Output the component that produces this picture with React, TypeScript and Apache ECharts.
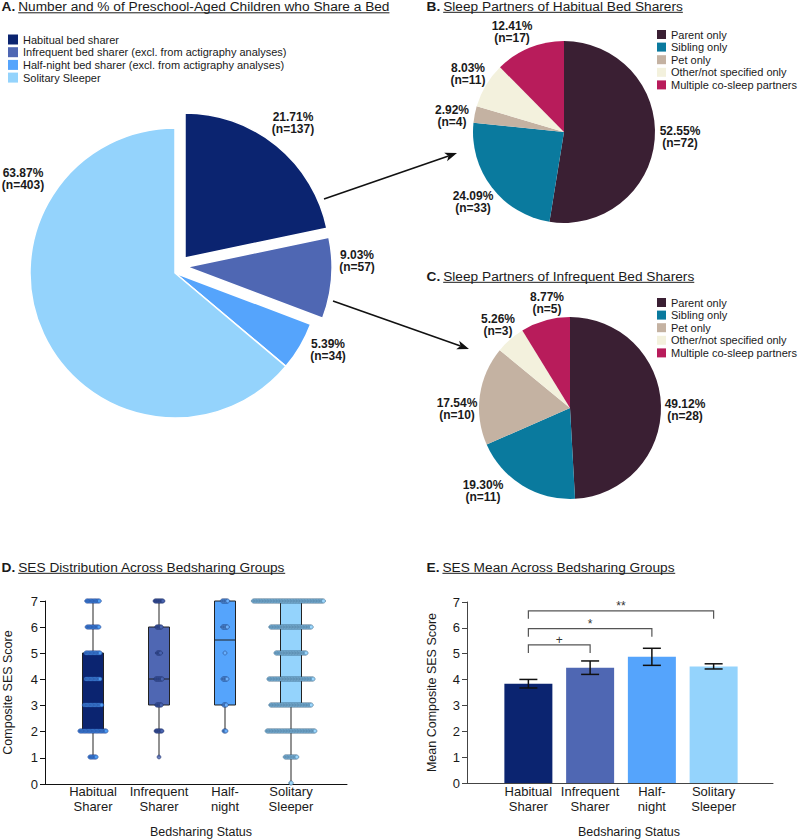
import React, { useEffect, useRef } from "react";
import * as echarts from "echarts";

const FONT = '"Liberation Sans", Arial, Helvetica, sans-serif';
const INK = "#1a1a1a";

// ---------- Panel A data ----------
const groupNames = [
  "Habitual bed sharer",
  "Infrequent bed sharer (excl. from actigraphy analyses)",
  "Half-night bed sharer (excl. from actigraphy analyses)",
  "Solitary Sleeper",
];
const groupCounts = [137, 57, 34, 403];

// ---------- Panels B & C data ----------
const partnerNames = [
  "Parent only",
  "Sibling only",
  "Pet only",
  "Other/not specified only",
  "Multiple co-sleep partners",
];
const habitualPartnerCounts = [72, 33, 4, 11, 17];
const infrequentPartnerCounts = [28, 11, 10, 3, 5];

// ---------- Panel D data ----------
const statusCategories = ["Habitual\nSharer", "Infrequent\nSharer", "Half-\nnight", "Solitary\nSleeper"];
const sesScores = [0, 1, 2, 3, 4, 5, 6, 7];
const habitualScoreCounts = [0, 9, 34, 23, 19, 19, 16, 17];
const infrequentScoreCounts = [0, 1, 10, 8, 11, 6, 8, 13];
const halfNightScoreCounts = [0, 0, 4, 5, 7, 1, 8, 9];
const solitaryScoreCounts = [2, 17, 66, 56, 61, 42, 56, 103];
const boxMin = [1, 1, 2, 0];
const boxQ1 = [2, 3, 3, 3];
const boxMedian = [4, 4, 5.5, 5];
const boxQ3 = [5, 6, 7, 7];
const boxMax = [7, 7, 7, 7];

// ---------- Panel E data ----------
const sesMeans = [3.84, 4.46, 4.88, 4.51];
const sesSE = [0.165, 0.26, 0.33, 0.1];
const sigFrom = [0, 0, 0];
const sigTo = [1, 2, 3];
const sigLevel = [5.34, 5.97, 6.66];
const sigLabels = ["+", "*", "**"];

// ---------- styles / layout ----------
const groupColors = ["#0b2470", "#4f67b3", "#55a4fc", "#94d3fc"];
const partnerColors = ["#3a1f33", "#0a7a9e", "#c4b2a2", "#f3f1dd", "#b81c5b"];
const dotFill = ["#4f9ff5", "#4a64b0", "#6db3ff", "#9cd8ff"];
const dotStroke = ["#1b3c8c", "#1c2c66", "#1c3a78", "#3b6585"];
const dotStepPx = [0.8, 0.67, 0.7, 0.74];
const bandPx = 66;

const pieACenter = [175, 273];
// pixel offsets of the pulled-out slices (habitual, infrequent)
const explodeOffsets: Record<number, number[]> = { 0: [10, -15], 1: [12, -6] };

const aLabelPos = [[293, 123], [357, 261], [328, 350], [23, 179]];
const bLabelPos = [[680, 137], [473, 202], [452, 116], [468, 74], [512, 32]];
const cLabelPos = [[685, 410], [483, 491], [457, 409], [498, 325], [547, 303]];

function measure(text: string, font: string) {
  const c = document.createElement("canvas").getContext("2d")!;
  c.font = font;
  return c.measureText(text).width;
}

const TITLE_SIZE = 13.7;
function titleGraphic(x: number, y: number, letter: string, text: string) {
  const lw = measure(letter, `bold ${TITLE_SIZE}px "Liberation Sans"`) + 3;
  const tw = measure(text, `${TITLE_SIZE}px "Liberation Sans"`);
  return [
    {
      type: "text", x, y,
      style: { text: letter, fontSize: TITLE_SIZE, fontWeight: "bold", fontFamily: FONT, fill: INK, verticalAlign: "middle" },
    },
    {
      type: "text", x: x + lw, y,
      style: { text, fontSize: TITLE_SIZE, fontFamily: FONT, fill: INK, verticalAlign: "middle" },
    },
    {
      type: "line",
      shape: { x1: x + lw, y1: y + 6.3, x2: x + lw + tw, y2: y + 6.3 },
      style: { stroke: INK, lineWidth: 1 },
    },
  ];
}

function arrow(x1: number, y1: number, x2: number, y2: number) {
  const dx = x2 - x1, dy = y2 - y1;
  const L = Math.hypot(dx, dy);
  const ux = dx / L, uy = dy / L;
  const hl = 12, hw = 4.5;
  const bx = x2 - ux * hl, by = y2 - uy * hl;
  return [
    { type: "line", shape: { x1, y1, x2: bx + ux * 3, y2: by + uy * 3 }, style: { stroke: "#111", lineWidth: 1.6 } },
    {
      type: "polygon",
      shape: { points: [[x2, y2], [bx - uy * hw, by + ux * hw], [bx + ux * 3, by + uy * 3], [bx + uy * hw, by - ux * hw]] },
      style: { fill: "#111" },
    },
  ];
}

function pieSeries(
  names: string[], counts: number[], colors: string[], center: number[], radius: number,
  labelPos: number[][], visible: (i: number) => boolean = () => true, extra: any = {}
) {
  const total = counts.reduce((a, b) => a + b, 0);
  return {
    type: "pie",
    center,
    radius,
    startAngle: 90,
    clockwise: true,
    avoidLabelOverlap: false,
    silent: true,
    emphasis: { disabled: true },
    data: names.map((n, i) => ({
      name: n,
      value: counts[i],
      itemStyle: visible(i)
        ? { color: colors[i] }
        : { color: "rgba(0,0,0,0)", borderWidth: 0, borderColor: "rgba(0,0,0,0)" },
      label: { show: visible(i) },
    })),
    label: {
      show: true,
      position: "outside",
      formatter: (p: any) => `${((p.value / total) * 100).toFixed(2)}%\n(n=${p.value})`,
      fontSize: 12,
      fontWeight: "bold",
      color: INK,
      lineHeight: 12.5,
      fontFamily: FONT,
    },
    labelLine: { show: false },
    labelLayout: (p: any) => ({
      x: labelPos[p.dataIndex][0],
      y: labelPos[p.dataIndex][1],
      align: "center",
      verticalAlign: "middle",
    }),
    ...extra,
  };
}

function dotSeries(g: number, counts: number[]) {
  const data: number[][] = [];
  sesScores.forEach((s, k) => {
    const n = counts[k];
    for (let i = 0; i < n; i++) {
      data.push([g + ((i - (n - 1) / 2) * dotStepPx[g]) / bandPx, s]);
    }
  });
  return {
    type: "scatter",
    xAxisIndex: 2,
    yAxisIndex: 1,
    z: 4,
    silent: true,
    symbol: "circle",
    symbolSize: 4,
    itemStyle: { color: dotFill[g], borderColor: dotStroke[g], borderWidth: 0.6 },
    data,
  };
}

function buildOption() {
  const legendText = { fontSize: 11, color: INK, fontFamily: FONT, lineHeight: 11 };
  const catLabel = { fontSize: 13, lineHeight: 15, color: INK, margin: 1, interval: 0, fontFamily: FONT };
  const axisName = { fontSize: 12.5, color: INK, fontFamily: FONT };
  const aBorder = { borderColor: "#ffffff", borderWidth: 1.5 };

  const exploded = Object.keys(explodeOffsets).map(Number);
  const pieA = [
    pieSeries(groupNames, groupCounts, groupColors, pieACenter, 145, aLabelPos,
      (i) => !exploded.includes(i), { itemStyle: aBorder }),
    ...exploded.map((k) =>
      pieSeries(groupNames, groupCounts, groupColors,
        [pieACenter[0] + explodeOffsets[k][0], pieACenter[1] + explodeOffsets[k][1]], 145, aLabelPos,
        (i) => i === k, { itemStyle: aBorder })
    ),
  ];

  return {
    animation: false,
    backgroundColor: "#ffffff",
    textStyle: { fontFamily: FONT },
    legend: [
      {
        data: groupNames.map((n, i) => ({ name: n, itemStyle: { color: groupColors[i], borderWidth: 0 } })),
        left: 8, top: 34, padding: 0, orient: "vertical", icon: "rect",
        itemWidth: 10, itemHeight: 10, itemGap: 1.7, selectedMode: false, textStyle: legendText,
      },
      {
        data: partnerNames, left: 657, top: 29, padding: 0, orient: "vertical", icon: "rect",
        itemWidth: 9, itemHeight: 9, itemGap: 1.6, selectedMode: false, textStyle: legendText,
      },
      {
        data: partnerNames, left: 657, top: 297, padding: 0, orient: "vertical", icon: "rect",
        itemWidth: 9, itemHeight: 9, itemGap: 1.6, selectedMode: false, textStyle: legendText,
      },
    ],
    grid: [
      { left: 43, top: 601, width: 304, height: 183 },
      { left: 60, top: 601, width: 264, height: 183 },
      { left: 467, top: 602, width: 306, height: 181 },
      { left: 497.5, top: 602, width: 247, height: 181 },
    ],
    xAxis: [
      {
        gridIndex: 0, type: "value", min: 0, max: 1,
        axisLine: { show: true, lineStyle: { color: "#111", width: 1 } },
        axisTick: { show: false }, axisLabel: { show: false }, splitLine: { show: false },
      },
      {
        gridIndex: 1, type: "category", data: statusCategories, boundaryGap: true,
        axisLine: { show: false }, axisTick: { show: false }, axisLabel: catLabel,
        name: "Bedsharing Status", nameLocation: "middle", nameGap: 42,
        nameTextStyle: { ...axisName, padding: [0, 0, 0, 18] },
      },
      { gridIndex: 1, type: "value", min: -0.5, max: 3.5, show: false },
      {
        gridIndex: 2, type: "value", min: 0, max: 1,
        axisLine: { show: true, lineStyle: { color: "#444", width: 1 } },
        axisTick: { show: false }, axisLabel: { show: false }, splitLine: { show: false },
      },
      {
        gridIndex: 3, type: "category", data: statusCategories, boundaryGap: true,
        axisLine: { show: false }, axisTick: { show: false }, axisLabel: catLabel,
        name: "Bedsharing Status", nameLocation: "middle", nameGap: 42,
        nameTextStyle: { ...axisName, padding: [0, 0, 0, 16] },
      },
    ],
    yAxis: [
      {
        gridIndex: 0, type: "value", min: 0, max: 7, interval: 1,
        axisLine: { show: true, lineStyle: { color: "#111", width: 1 } },
        axisTick: { show: true, length: 5, lineStyle: { color: "#111" } },
        axisLabel: { fontSize: 13, color: INK, margin: 7, fontFamily: FONT },
        splitLine: { show: false },
        name: "Composite SES Score", nameLocation: "middle", nameGap: 31, nameTextStyle: axisName,
      },
      { gridIndex: 1, type: "value", min: 0, max: 7, show: false },
      {
        gridIndex: 2, type: "value", min: 0, max: 7, interval: 1,
        axisLine: { show: true, lineStyle: { color: "#444", width: 1 } },
        axisTick: { show: true, length: 5, lineStyle: { color: "#444" } },
        axisLabel: { fontSize: 13, color: INK, margin: 7, fontFamily: FONT },
        splitLine: { show: false },
        name: "Mean Composite SES Score", nameLocation: "middle", nameGap: 29, nameTextStyle: axisName,
      },
      { gridIndex: 3, type: "value", min: 0, max: 7, show: false },
    ],
    series: [
      ...pieA,
      pieSeries(partnerNames, habitualPartnerCounts, partnerColors, [564, 132], 91, bLabelPos),
      pieSeries(partnerNames, infrequentPartnerCounts, partnerColors, [570, 408], 91, cLabelPos),
      // Panel D: box plots
      {
        type: "custom",
        xAxisIndex: 1,
        yAxisIndex: 1,
        z: 2,
        silent: true,
        itemStyle: { color: "#222" },
        data: statusCategories.map((_, i) => [i, boxMin[i], boxQ1[i], boxMedian[i], boxQ3[i], boxMax[i]]),
        encode: { x: 0, y: [1, 2, 3, 4, 5] },
        renderItem: (params: any, api: any) => {
          const i = api.value(0);
          const pMin = api.coord([i, api.value(1)]);
          const yQ1 = api.coord([i, api.value(2)])[1];
          const yMed = api.coord([i, api.value(3)])[1];
          const yQ3 = api.coord([i, api.value(4)])[1];
          const yMax = api.coord([i, api.value(5)])[1];
          const cx = pMin[0];
          const w = 21;
          return {
            type: "group",
            children: [
              { type: "line", shape: { x1: cx, y1: pMin[1], x2: cx, y2: yMax }, style: { stroke: "#777", lineWidth: 1.6 } },
              {
                type: "rect",
                shape: { x: cx - w / 2, y: yQ3, width: w, height: yQ1 - yQ3 },
                style: { fill: groupColors[params.dataIndex], stroke: "#222", lineWidth: 1 },
              },
              { type: "line", shape: { x1: cx - w / 2, y1: yMed, x2: cx + w / 2, y2: yMed }, style: { stroke: "#222", lineWidth: 1 } },
            ],
          };
        },
      },
      dotSeries(0, habitualScoreCounts),
      dotSeries(1, infrequentScoreCounts),
      dotSeries(2, halfNightScoreCounts),
      dotSeries(3, solitaryScoreCounts),
      // Panel E: mean bars
      {
        type: "bar",
        xAxisIndex: 4,
        yAxisIndex: 3,
        barWidth: 48,
        silent: true,
        z: 2,
        data: sesMeans.map((v, i) => ({ value: v, itemStyle: { color: groupColors[i] } })),
      },
      {
        type: "custom",
        xAxisIndex: 4,
        yAxisIndex: 3,
        z: 3,
        silent: true,
        itemStyle: { color: "#111" },
        data: sesMeans.map((m, i) => [i, m, sesSE[i]]),
        encode: { x: 0, y: 1 },
        renderItem: (params: any, api: any) => {
          const i = api.value(0);
          const m = api.value(1);
          const se = api.value(2);
          const hi = api.coord([i, m + se]);
          const lo = api.coord([i, m - se]);
          const cw = 9;
          const st = { stroke: "#111", lineWidth: 1.5 };
          return {
            type: "group",
            children: [
              { type: "line", shape: { x1: hi[0], y1: hi[1], x2: lo[0], y2: lo[1] }, style: st },
              { type: "line", shape: { x1: hi[0] - cw, y1: hi[1], x2: hi[0] + cw, y2: hi[1] }, style: st },
              { type: "line", shape: { x1: lo[0] - cw, y1: lo[1], x2: lo[0] + cw, y2: lo[1] }, style: st },
            ],
          };
        },
      },
      {
        type: "custom",
        xAxisIndex: 4,
        yAxisIndex: 3,
        z: 3,
        silent: true,
        itemStyle: { color: "#333" },
        data: sigFrom.map((f, k) => [f, sigTo[k], sigLevel[k]]),
        encode: { x: [0, 1], y: 2 },
        renderItem: (params: any, api: any) => {
          const p1 = api.coord([api.value(0), api.value(2)]);
          const p2 = api.coord([api.value(1), api.value(2)]);
          const leg = 8;
          return {
            type: "group",
            children: [
              {
                type: "polyline",
                shape: { points: [[p1[0], p1[1] + leg], [p1[0], p1[1]], [p2[0], p1[1]], [p2[0], p1[1] + leg]] },
                style: { stroke: "#555", lineWidth: 1.2, fill: "none" },
              },
              {
                type: "text",
                x: (p1[0] + p2[0]) / 2,
                y: p1[1] - 5,
                style: {
                  text: sigLabels[params.dataIndex], fontSize: 12, fill: "#333", fontFamily: FONT,
                  align: "center", verticalAlign: "middle",
                },
              },
            ],
          };
        },
      },
    ],
    graphic: [
      ...titleGraphic(1.5, 6.5, "A.", "Number and % of Preschool-Aged Children who Share a Bed"),
      ...titleGraphic(426.5, 6, "B.", "Sleep Partners of Habitual Bed Sharers"),
      ...titleGraphic(426.5, 276, "C.", "Sleep Partners of Infrequent Bed Sharers"),
      ...titleGraphic(1.5, 567, "D.", "SES Distribution Across Bedsharing Groups"),
      ...titleGraphic(426.5, 567, "E.", "SES Mean Across Bedsharing Groups"),
      ...arrow(324, 199, 457, 153),
      ...arrow(333, 301, 469, 349),
    ],
  };
}

export default function App() {
  const ref = useRef<HTMLDivElement>(null);
  useEffect(() => {
    const chart = echarts.init(ref.current!, null, { renderer: "svg" });
    chart.setOption(buildOption() as any);
    return () => chart.dispose();
  }, []);
  return (
    <div
      ref={ref}
      style={{ position: "absolute", left: 0, top: 0, width: 800, height: 839, background: "#fff" }}
    />
  );
}
